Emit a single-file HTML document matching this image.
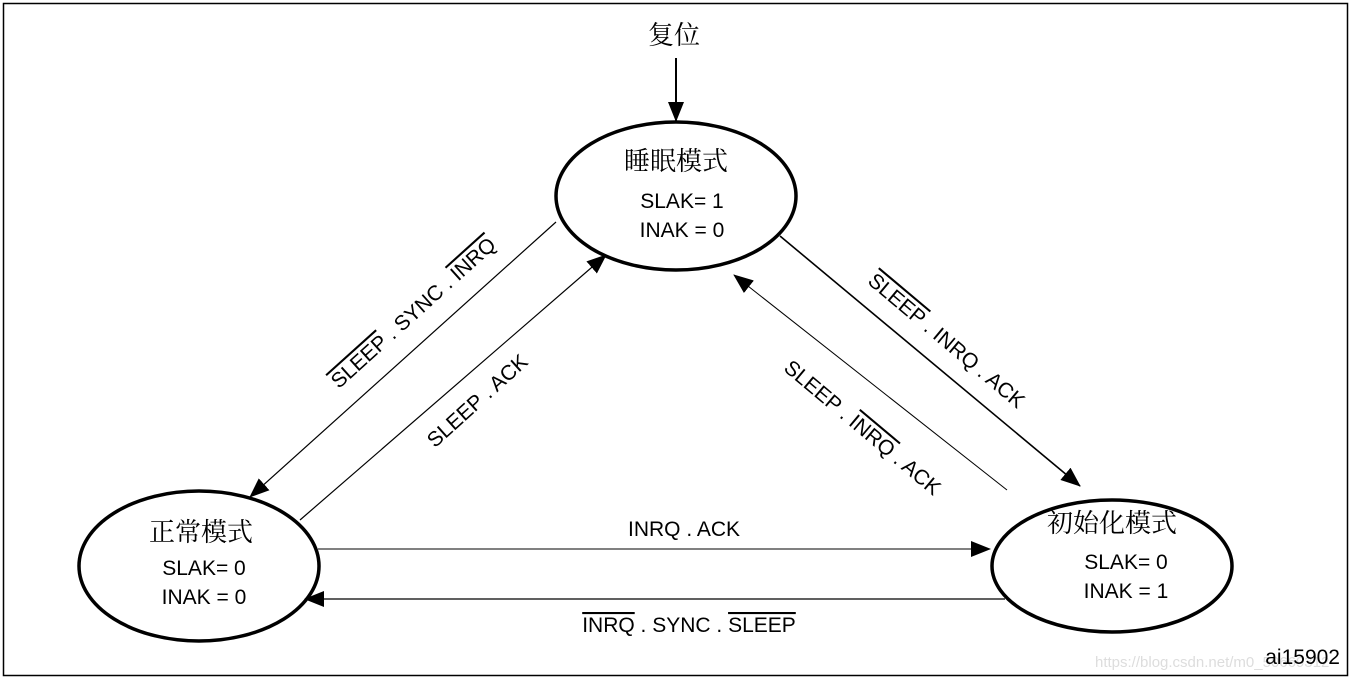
<!DOCTYPE html>
<html><head><meta charset="utf-8"><style>
html,body{margin:0;padding:0;background:#fff}
svg{display:block}
text{font-family:"Liberation Sans","Noto Sans CJK SC",sans-serif;fill:#000}
.cjk{font-family:"Noto Serif CJK SC","Noto Sans CJK SC",serif;font-size:26px}
.t{font-size:21px}
.ol{text-decoration:overline}
</style></head><body>
<svg width="1352" height="680" viewBox="0 0 1352 680">
<defs>
<marker id="a" markerWidth="12" markerHeight="10" refX="11" refY="5" orient="auto" markerUnits="userSpaceOnUse" viewBox="0 0 12 10">
<path d="M0,0 L12,5 L0,10 z" fill="#000"/>
</marker>
<marker id="b" markerWidth="20" markerHeight="16" refX="19" refY="8" orient="auto" markerUnits="userSpaceOnUse" viewBox="0 0 20 16">
<path d="M0,0 L20,8 L0,16 z" fill="#000"/>
</marker>
</defs>
<rect x="3.5" y="3.5" width="1344" height="672" fill="none" stroke="#000" stroke-width="1.5"/>
<text class="cjk" x="674" y="44" text-anchor="middle">复位</text>
<line x1="676" y1="58" x2="676" y2="121" stroke="#000" stroke-width="2" marker-end="url(#b)"/>

<ellipse cx="676" cy="196" rx="120" ry="74" fill="none" stroke="#000" stroke-width="3.5"/>
<text class="cjk" x="676" y="170" text-anchor="middle">睡眠模式</text>
<text class="t" x="682" y="208" text-anchor="middle">SLAK= 1</text>
<text class="t" x="682" y="237" text-anchor="middle">INAK = 0</text>

<ellipse cx="199" cy="566" rx="120" ry="75" fill="none" stroke="#000" stroke-width="3.5"/>
<text class="cjk" x="201" y="541" text-anchor="middle">正常模式</text>
<text class="t" x="204" y="575" text-anchor="middle">SLAK= 0</text>
<text class="t" x="204" y="604" text-anchor="middle">INAK = 0</text>

<ellipse cx="1112" cy="566" rx="120" ry="66" fill="none" stroke="#000" stroke-width="3.5"/>
<text class="cjk" x="1112" y="532" text-anchor="middle">初始化模式</text>
<text class="t" x="1126" y="569" text-anchor="middle">SLAK= 0</text>
<text class="t" x="1126" y="598" text-anchor="middle">INAK = 1</text>

<line x1="556" y1="222" x2="250" y2="497" stroke="#000" stroke-width="1.2" marker-end="url(#b)"/>
<line x1="300" y1="520" x2="606" y2="255" stroke="#000" stroke-width="1.2" marker-end="url(#b)"/>
<line x1="780" y1="236" x2="1080" y2="486" stroke="#000" stroke-width="1.6" marker-end="url(#b)"/>
<line x1="1007" y1="490" x2="734" y2="275" stroke="#000" stroke-width="1" marker-end="url(#b)"/>
<line x1="318" y1="549" x2="990" y2="549" stroke="#000" stroke-width="1" marker-end="url(#b)"/>
<line x1="1005" y1="599" x2="305" y2="599" stroke="#000" stroke-width="1.2" marker-end="url(#b)"/>

<text class="t" transform="translate(418,318) rotate(-42)" text-anchor="middle"><tspan class="ol">SLEEP</tspan> . SYNC . <tspan class="ol">INRQ</tspan></text>
<text class="t" transform="translate(482,406) rotate(-42)" text-anchor="middle">SLEEP . ACK</text>
<text class="t" transform="translate(942,346) rotate(40)" text-anchor="middle"><tspan class="ol">SLEEP</tspan> . INRQ . ACK</text>
<text class="t" transform="translate(858,433) rotate(40)" text-anchor="middle">SLEEP . <tspan class="ol">INRQ</tspan> . ACK</text>
<text class="t" x="684" y="536" text-anchor="middle">INRQ . ACK</text>
<text class="t" x="689" y="632" text-anchor="middle"><tspan class="ol">INRQ</tspan> . SYNC . <tspan class="ol">SLEEP</tspan></text>
<text x="1095" y="667" style="font-size:15px;fill:#ddd">https://blog.csdn.net/m0_50669312</text>
<text class="t" x="1340" y="664" text-anchor="end">ai15902</text>
</svg>
</body></html>
